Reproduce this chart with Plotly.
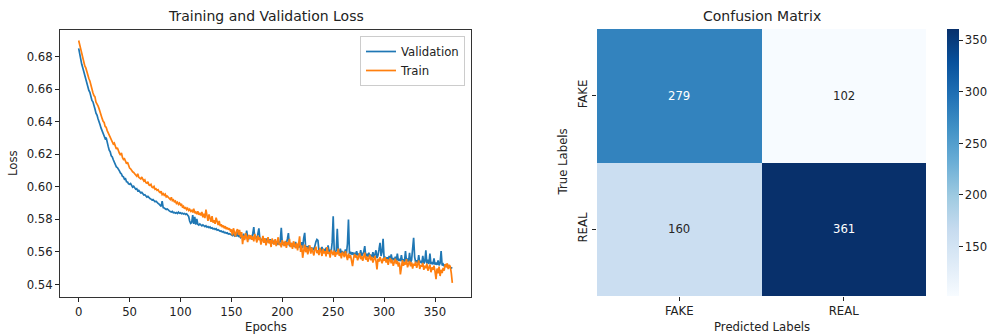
import plotly.graph_objects as go

# ---------------- data ----------------
validation_loss = [
    0.6850, 0.6815, 0.6768, 0.6752, 0.6731, 0.6705, 0.6683, 0.6661, 0.6634, 0.6618,
    0.6592, 0.6580, 0.6553, 0.6530, 0.6522, 0.6489, 0.6478, 0.6452, 0.6440, 0.6418,
    0.6392, 0.6381, 0.6360, 0.6342, 0.6318, 0.6300, 0.6296, 0.6302, 0.6262, 0.6248,
    0.6225, 0.6214, 0.6190, 0.6183, 0.6166, 0.6150, 0.6141, 0.6122, 0.6118, 0.6102,
    0.6098, 0.6085, 0.6079, 0.6064, 0.6061, 0.6046, 0.6049, 0.6031, 0.6029, 0.6018,
    0.6015, 0.6020, 0.6004, 0.5998, 0.6003, 0.5990, 0.5985, 0.5988, 0.5975, 0.5978,
    0.5968, 0.5962, 0.5966, 0.5953, 0.5949, 0.5951, 0.5940, 0.5937, 0.5941, 0.5930,
    0.5928, 0.5924, 0.5919, 0.5922, 0.5912, 0.5908, 0.5911, 0.5902, 0.5898, 0.5893,
    0.5885, 0.5880, 0.5912, 0.5872, 0.5870, 0.5866, 0.5861, 0.5864, 0.5855, 0.5852,
    0.5848, 0.5845, 0.5849, 0.5841, 0.5843, 0.5838, 0.5842, 0.5836, 0.5844, 0.5837,
    0.5840, 0.5835, 0.5838, 0.5833, 0.5836, 0.5830, 0.5834, 0.5827, 0.5818, 0.5790,
    0.5775, 0.5780, 0.5826, 0.5772, 0.5815, 0.5768, 0.5803, 0.5770, 0.5765, 0.5772,
    0.5762, 0.5760, 0.5766, 0.5758, 0.5755, 0.5761, 0.5752, 0.5756, 0.5749, 0.5753,
    0.5745, 0.5748, 0.5741, 0.5744, 0.5738, 0.5742, 0.5733, 0.5736, 0.5730, 0.5727,
    0.5729, 0.5722, 0.5725, 0.5718, 0.5720, 0.5714, 0.5717, 0.5710, 0.5712, 0.5706,
    0.5705, 0.5701, 0.5712, 0.5698, 0.5703, 0.5695, 0.5722, 0.5692, 0.5700, 0.5688,
    0.5694, 0.5690, 0.5712, 0.5685, 0.5691, 0.5730, 0.5686, 0.5680, 0.5701, 0.5684,
    0.5688, 0.5712, 0.5752, 0.5682, 0.5695, 0.5678, 0.5721, 0.5745, 0.5680, 0.5676,
    0.5672, 0.5690, 0.5668, 0.5675, 0.5664, 0.5682, 0.5661, 0.5660, 0.5678, 0.5656,
    0.5665, 0.5652, 0.5670, 0.5650, 0.5661, 0.5648, 0.5655, 0.5645, 0.5668, 0.5748,
    0.5652, 0.5643, 0.5660, 0.5641, 0.5650, 0.5680, 0.5715, 0.5640, 0.5636, 0.5655,
    0.5634, 0.5648, 0.5631, 0.5662, 0.5630, 0.5645, 0.5628, 0.5641, 0.5625, 0.5660,
    0.5623, 0.5685, 0.5717, 0.5622, 0.5635, 0.5618, 0.5640, 0.5615, 0.5628, 0.5612,
    0.5625, 0.5610, 0.5648, 0.5662, 0.5676, 0.5670, 0.5608, 0.5622, 0.5605, 0.5630,
    0.5603, 0.5618, 0.5600, 0.5625, 0.5602, 0.5640, 0.5598, 0.5612, 0.5600, 0.5660,
    0.5819, 0.5605, 0.5596, 0.5610, 0.5742, 0.5598, 0.5594, 0.5620, 0.5590, 0.5605,
    0.5592, 0.5588, 0.5615, 0.5590, 0.5650, 0.5799, 0.5586, 0.5600, 0.5584, 0.5597,
    0.5582, 0.5594, 0.5580, 0.5605, 0.5578, 0.5590, 0.5576, 0.5610, 0.5574, 0.5585,
    0.5600, 0.5635, 0.5572, 0.5588, 0.5570, 0.5595, 0.5568, 0.5583, 0.5566, 0.5598,
    0.5564, 0.5585, 0.5610, 0.5562, 0.5580, 0.5615, 0.5656, 0.5575, 0.5600, 0.5680,
    0.5558, 0.5570, 0.5555, 0.5566, 0.5553, 0.5575, 0.5551, 0.5585, 0.5550, 0.5562,
    0.5548, 0.5570, 0.5546, 0.5590, 0.5545, 0.5558, 0.5543, 0.5580, 0.5542, 0.5555,
    0.5540, 0.5605, 0.5541, 0.5560, 0.5538, 0.5595, 0.5536, 0.5550, 0.5620, 0.5687,
    0.5570, 0.5535, 0.5548, 0.5533, 0.5580, 0.5532, 0.5545, 0.5530, 0.5575, 0.5529,
    0.5540, 0.5610, 0.5528, 0.5552, 0.5526, 0.5590, 0.5525, 0.5538, 0.5523, 0.5560,
    0.5522, 0.5535, 0.5520, 0.5548, 0.5518, 0.5530, 0.5605, 0.5517, 0.5525, 0.5514,
    0.5520, 0.5512, 0.5508, 0.5515, 0.5506, 0.5504, 0.5502, 0.5500,
]

train_loss = [
    0.6898, 0.6870, 0.6835, 0.6810, 0.6795, 0.6768, 0.6742, 0.6730, 0.6705, 0.6680,
    0.6665, 0.6650, 0.6620, 0.6608, 0.6578, 0.6560, 0.6552, 0.6520, 0.6512, 0.6497,
    0.6480, 0.6455, 0.6445, 0.6420, 0.6402, 0.6395, 0.6370, 0.6365, 0.6345, 0.6330,
    0.6322, 0.6300, 0.6285, 0.6278, 0.6262, 0.6268, 0.6245, 0.6232, 0.6240, 0.6215,
    0.6205, 0.6195, 0.6208, 0.6180, 0.6168, 0.6172, 0.6150, 0.6142, 0.6151, 0.6128,
    0.6115, 0.6110, 0.6098, 0.6092, 0.6088, 0.6075, 0.6072, 0.6065, 0.6080, 0.6058,
    0.6052, 0.6048, 0.6060, 0.6040, 0.6035, 0.6042, 0.6025, 0.6022, 0.6030, 0.6012,
    0.6008, 0.6015, 0.5998, 0.5995, 0.6002, 0.5985, 0.5988, 0.5978, 0.5982, 0.5970,
    0.5965, 0.5972, 0.5952, 0.5958, 0.5948, 0.5955, 0.5938, 0.5942, 0.5935, 0.5930,
    0.5922, 0.5935, 0.5915, 0.5920, 0.5908, 0.5912, 0.5898, 0.5905, 0.5892, 0.5900,
    0.5888, 0.5895, 0.5872, 0.5880, 0.5865, 0.5875, 0.5860, 0.5868, 0.5855, 0.5862,
    0.5850, 0.5858, 0.5842, 0.5865, 0.5838, 0.5845, 0.5832, 0.5850, 0.5828, 0.5836,
    0.5825, 0.5845, 0.5812, 0.5835, 0.5808, 0.5860, 0.5805, 0.5790, 0.5830, 0.5798,
    0.5785, 0.5820, 0.5780, 0.5795, 0.5772, 0.5810, 0.5776, 0.5765, 0.5790, 0.5758,
    0.5770, 0.5752, 0.5762, 0.5745, 0.5758, 0.5740, 0.5750, 0.5736, 0.5745, 0.5730,
    0.5738, 0.5702, 0.5745, 0.5715, 0.5695, 0.5728, 0.5740, 0.5705, 0.5735, 0.5690,
    0.5722, 0.5648, 0.5700, 0.5672, 0.5715, 0.5690, 0.5660, 0.5705, 0.5680, 0.5702,
    0.5675, 0.5695, 0.5665, 0.5710, 0.5688, 0.5658, 0.5700, 0.5672, 0.5690, 0.5645,
    0.5668, 0.5698, 0.5655, 0.5685, 0.5640, 0.5675, 0.5690, 0.5652, 0.5672, 0.5630,
    0.5682, 0.5660, 0.5645, 0.5678, 0.5635, 0.5665, 0.5690, 0.5642, 0.5655, 0.5628,
    0.5672, 0.5650, 0.5635, 0.5668, 0.5625, 0.5660, 0.5645, 0.5680, 0.5630, 0.5655,
    0.5618, 0.5665, 0.5640, 0.5622, 0.5655, 0.5610, 0.5648, 0.5695, 0.5600, 0.5640,
    0.5564, 0.5620, 0.5645, 0.5598, 0.5630, 0.5585, 0.5615, 0.5640, 0.5590, 0.5625,
    0.5600, 0.5578, 0.5615, 0.5632, 0.5592, 0.5610, 0.5580, 0.5625, 0.5602, 0.5575,
    0.5618, 0.5590, 0.5605, 0.5572, 0.5630, 0.5588, 0.5600, 0.5565, 0.5612, 0.5595,
    0.5580, 0.5608, 0.5570, 0.5598, 0.5585, 0.5620, 0.5575, 0.5592, 0.5560, 0.5600,
    0.5582, 0.5568, 0.5605, 0.5575, 0.5550, 0.5590, 0.5562, 0.5580, 0.5540, 0.5513,
    0.5560, 0.5588, 0.5565, 0.5578, 0.5548, 0.5570, 0.5592, 0.5555, 0.5575, 0.5545,
    0.5568, 0.5595, 0.5552, 0.5572, 0.5540, 0.5565, 0.5582, 0.5548, 0.5570, 0.5535,
    0.5562, 0.5575, 0.5545, 0.5493, 0.5558, 0.5540, 0.5568, 0.5550, 0.5530, 0.5560,
    0.5545, 0.5568, 0.5535, 0.5555, 0.5520, 0.5548, 0.5562, 0.5530, 0.5552, 0.5515,
    0.5540, 0.5558, 0.5525, 0.5545, 0.5510, 0.5535, 0.5462, 0.5528, 0.5550, 0.5515,
    0.5538, 0.5522, 0.5555, 0.5505, 0.5530, 0.5545, 0.5512, 0.5535, 0.5498, 0.5528,
    0.5515, 0.5540, 0.5502, 0.5525, 0.5548, 0.5495, 0.5520, 0.5510, 0.5532, 0.5490,
    0.5515, 0.5500, 0.5528, 0.5485, 0.5510, 0.5522, 0.5475, 0.5505, 0.5490, 0.5515,
    0.5480, 0.5432, 0.5498, 0.5468, 0.5510, 0.5452, 0.5490, 0.5470, 0.5502, 0.5485,
    0.5525, 0.5505, 0.5530, 0.5495, 0.5520, 0.5510, 0.5470, 0.5410,
]

val_epochs = list(range(len(validation_loss)))
train_epochs = list(range(len(train_loss)))

loss_ticks = [0.54, 0.56, 0.58, 0.60, 0.62, 0.64, 0.66, 0.68]
epoch_ticks = [0, 50, 100, 150, 200, 250, 300, 350]

cm_labels = ["FAKE", "REAL"]
cm_values = [[279, 102],
             [160, 361]]
cbar_ticks = [150, 200, 250, 300, 350]

# matplotlib "Blues"
blues = ["#f7fbff", "#deebf7", "#c6dbef", "#9ecae1", "#6baed6",
         "#4292c6", "#2171b5", "#08519c", "#08306b"]
blues_scale = [[i / (len(blues) - 1), c] for i, c in enumerate(blues)]

# ---------------- figure ----------------
W, H = 993, 335
FONT = "DejaVu Sans"
FS = 11.7
TXT = "#222222"

def px_x(p):
    return p / W

def px_y(p):
    return 1 - p / H

fig = go.Figure()

fig.add_trace(go.Scatter(
    x=val_epochs, y=validation_loss, mode="lines", name="Validation",
    line=dict(color="#1f77b4", width=1.7), xaxis="x", yaxis="y"))
fig.add_trace(go.Scatter(
    x=train_epochs, y=train_loss, mode="lines", name="Train",
    line=dict(color="#ff7f0e", width=1.7), xaxis="x", yaxis="y"))

zmin = min(min(r) for r in cm_values)
zmax = max(max(r) for r in cm_values)
fig.add_trace(go.Heatmap(
    z=cm_values, x=cm_labels, y=cm_labels, colorscale=blues_scale,
    zmin=zmin, zmax=zmax, showscale=True, xaxis="x2", yaxis="y2",
    hoverinfo="skip",
    colorbar=dict(
        x=px_x(947), xanchor="left", xpad=0, ypad=0,
        y=px_y(162.5), yanchor="middle", len=267 / H, lenmode="fraction",
        thickness=12, thicknessmode="pixels", outlinewidth=0,
        tickvals=cbar_ticks, ticks="outside", ticklen=4, tickcolor=TXT,
        tickfont=dict(family=FONT, size=FS, color=TXT)),
    showlegend=False))

annotations = []
mid = (zmin + zmax) / 2
for i, row_label in enumerate(cm_labels):
    for j, col_label in enumerate(cm_labels):
        v = cm_values[i][j]
        annotations.append(dict(
            x=col_label, y=row_label, xref="x2", yref="y2", text=str(v),
            showarrow=False,
            font=dict(family=FONT, size=FS, color="#ffffff" if v > mid else "#262626")))

def title_ann(text, cx, cy, size, angle=0):
    return dict(text=text, x=px_x(cx), y=px_y(cy), xref="paper", yref="paper",
                showarrow=False, textangle=angle, xanchor="center", yanchor="middle",
                font=dict(family=FONT, size=size, color=TXT))

annotations += [
    title_ann("Training and Validation Loss", 265.5, 16, 14),
    title_ann("Epochs", 265.5, 327, FS),
    title_ann("Loss", 13, 163, FS, -90),
    title_ann("Confusion Matrix", 761.5, 16, 14),
    title_ann("Predicted Labels", 761.5, 327, FS),
    title_ann("True Labels", 563, 162.5, FS, -90),
]

axis_common = dict(showgrid=False, zeroline=False, ticks="outside", ticklen=4,
                   tickcolor=TXT, tickwidth=1,
                   tickfont=dict(family=FONT, size=FS, color=TXT))

fig.update_layout(
    width=W, height=H,
    margin=dict(l=0, r=0, t=0, b=0),
    paper_bgcolor="white", plot_bgcolor="white",
    font=dict(family=FONT, size=FS, color=TXT),
    xaxis=dict(domain=[px_x(60), px_x(471)], range=[-18.35, 385.35],
               tickvals=epoch_ticks, showline=True, linecolor="#333333",
               linewidth=1, mirror=True, anchor="y", **axis_common),
    yaxis=dict(domain=[px_y(297), px_y(29.5)], range=[0.5323, 0.6966],
               tickvals=loss_ticks, tickformat=".2f", showline=True,
               linecolor="#333333", linewidth=1, mirror=True, anchor="x",
               **axis_common),
    xaxis2=dict(domain=[px_x(597), px_x(926)], range=[-0.5, 1.5],
                showline=False, anchor="y2", **axis_common),
    yaxis2=dict(domain=[px_y(296), px_y(29)], range=[1.5, -0.5],
                showline=False, anchor="x2", tickangle=-90, **axis_common),
    legend=dict(x=px_x(465), xanchor="right", y=px_y(36), yanchor="top",
                bgcolor="rgba(255,255,255,0.8)", bordercolor="#cccccc",
                borderwidth=1, font=dict(family=FONT, size=FS, color=TXT),
                tracegroupgap=0, itemwidth=30),
    annotations=annotations,
)

fig.write_html(
    "out.html",
    config={"displayModeBar": False},
    post_script="document.body.style.margin='0px';document.body.style.overflow='hidden';",
)
